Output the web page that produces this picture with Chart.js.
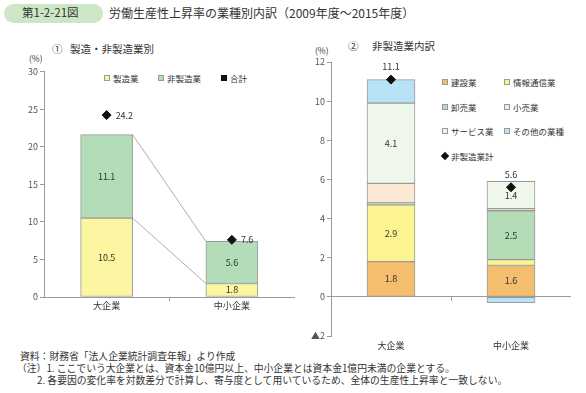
<!DOCTYPE html>
<html lang="ja">
<head>
<meta charset="utf-8">
<script src="https://cdn.jsdelivr.net/npm/chart.js@4/dist/chart.umd.min.js"></script>
<style>
body{margin:0;width:586px;height:393px;position:relative;background:#fff;overflow:hidden;
  font-family:"Noto Sans CJK JP","Noto Sans",sans-serif;color:#333}
.t{position:absolute;white-space:nowrap;line-height:1}
.pill{position:absolute;left:4px;top:4px;width:99px;height:19px;border-radius:10px;background:#cde6c6}
.sq{position:absolute;width:6px;height:6px;box-sizing:border-box;border:1px solid #999}
.dia{position:absolute;width:6px;height:6px;background:#111;transform:rotate(45deg)}
canvas{position:absolute}
</style>
</head>
<body>
<div class="pill"></div>
<div class="t" style="left:22px;top:7px;font-size:11.5px">第1-2-21図</div>
<div class="t" style="left:109px;top:7px;font-size:12px">労働生産性上昇率の業種別内訳（2009年度～2015年度）</div>

<div class="t" style="left:52px;top:44px;font-size:10.5px">①</div>
<div class="t" style="left:70px;top:44px;font-size:10.5px">製造・非製造業別</div>
<div class="t" style="left:348px;top:41px;font-size:10.5px">②</div>
<div class="t" style="left:372px;top:41px;font-size:10.5px">非製造業内訳</div>

<div class="t" style="left:29px;top:54px;font-size:8.5px">(%)</div>
<div class="t" style="left:315px;top:46px;font-size:8.5px">(%)</div>

<div id="legL"></div>
<div id="legR"></div>

<canvas id="left" width="300" height="270" style="left:0;top:50px;width:300px;height:270px"></canvas>
<canvas id="right" width="286" height="320" style="left:300px;top:40px;width:286px;height:320px"></canvas>

<div class="t" style="left:20px;top:352px;font-size:9.8px">資料：財務省「法人企業統計調査年報」より作成</div>
<div class="t" style="left:17px;top:364px;font-size:9.8px">（注）1. ここでいう大企業とは、資本金10億円以上、中小企業とは資本金1億円未満の企業とする。</div>
<div class="t" style="left:37px;top:376px;font-size:9.8px">2. 各要因の変化率を対数差分で計算し、寄与度として用いているため、全体の生産性上昇率と一致しない。</div>

<script>
(() => {
'use strict';
const $ = s => document.querySelector(s);

// ① 製造・非製造業別
const leftCats = ['大企業', '中小企業'];
const mfg = [10.5, 1.8];
const nonMfg = [11.1, 5.6];
const leftTotal = [24.2, 7.6];

// ② 非製造業内訳
const rightCats = ['大企業', '中小企業'];
const construction = [1.8, 1.6];
const infoComm = [2.9, 0.3];
const wholesale = [0.1, 2.5];
const retail = [1.0, 0.1];
const services = [4.1, 1.4];
const others = [1.2, -0.3];
const nonMfgTotal = [11.1, 5.6];

const MIN_LABEL = 1.4; // smaller segments are not labelled
const FONT = '"Noto Sans CJK JP", "Noto Sans", sans-serif';
const EDGE = '#9a9a9a';

Chart.defaults.font.family = FONT;
Chart.defaults.font.size = 9;
Chart.defaults.color = '#444';
Chart.defaults.animation = false;

// legends (HTML)
function legendItem(x, y, color, text, diamond) {
    const mark = diamond
        ? `<div class="dia" style="left:${x}px;top:${y - 3}px"></div>`
        : `<div class="sq" style="left:${x}px;top:${y - 3}px;background:${color};${color === '#111' ? 'border-color:#111' : ''}"></div>`;
    return mark + `<div class="t" style="left:${x + 9}px;top:${y - 4.5}px;font-size:8.5px">${text}</div>`;
}
$('#legL').innerHTML = [
    legendItem(104, 78, '#fcf6a2', '製造業'),
    legendItem(158, 78, '#b3dcb8', '非製造業'),
    legendItem(221, 78, '#111', '合計')
].join('');
$('#legR').innerHTML = [
    legendItem(442, 82, '#f5bd6e', '建設業'),
    legendItem(504, 82, '#fcf48e', '情報通信業'),
    legendItem(442, 107, '#b4dcb7', '卸売業'),
    legendItem(504, 107, '#fce9d3', '小売業'),
    legendItem(442, 131, '#eef7ea', 'サービス業'),
    legendItem(504, 131, '#b8e2f6', 'その他の業種'),
    legendItem(442, 156, '#111', '非製造業計', true)
].join('');

// draws segment values, totals and the small tick between categories
const labels = {
    id: 'labels',
    afterDatasetsDraw(chart, args, opts) {
        const ctx = chart.ctx;
        ctx.save();
        ctx.font = '9px ' + FONT;
        ctx.fillStyle = '#333';
        ctx.textAlign = 'center';
        ctx.textBaseline = 'middle';
        chart.data.datasets.forEach((ds, i) => {
            const meta = chart.getDatasetMeta(i);
            meta.data.forEach((el, j) => {
                const v = ds.data[j];
                if (ds.type === 'line') {
                    if (opts.totalPos === 'right') {
                        ctx.textAlign = 'left';
                        ctx.fillText(v.toFixed(1), el.x + 9, el.y);
                        ctx.textAlign = 'center';
                    } else {
                        ctx.fillText(v.toFixed(1), el.x, el.y - 13);
                    }
                } else if (Math.abs(v) >= MIN_LABEL) {
                    ctx.fillText(v.toFixed(1), el.x, (el.y + el.base) / 2);
                }
            });
        });
        // tick mark between the two categories
        const xs = chart.scales.x, y0 = chart.scales.y.getPixelForValue(0);
        const mid = (xs.getPixelForValue(0) + xs.getPixelForValue(1)) / 2;
        ctx.strokeStyle = EDGE;
        ctx.lineWidth = 1;
        ctx.beginPath();
        ctx.moveTo(Math.round(mid) + 0.5, y0);
        ctx.lineTo(Math.round(mid) + 0.5, y0 + 4);
        ctx.stroke();
        ctx.restore();
    }
};

// thin lines joining the stacked segments of the two bars
const joiners = {
    id: 'joiners',
    beforeDatasetsDraw(chart) {
        const ctx = chart.ctx;
        ctx.save();
        ctx.strokeStyle = '#999';
        ctx.lineWidth = 0.8;
        chart.data.datasets.forEach((ds, i) => {
            if (ds.type === 'line') return;
            const [a, b] = chart.getDatasetMeta(i).data;
            ctx.beginPath();
            ctx.moveTo(a.x + a.width / 2, a.y);
            ctx.lineTo(b.x - b.width / 2, b.y);
            ctx.stroke();
        });
        ctx.restore();
    }
};

function bar(label, data, color, thick) {
    return { label, data, backgroundColor: color, borderColor: EDGE, borderWidth: 1,
        borderSkipped: false, barThickness: thick, order: 2 };
}
function diamonds(label, data) {
    return { type: 'line', label, data, showLine: false, pointStyle: 'rectRot',
        pointRadius: 4.5, pointBackgroundColor: '#111', pointBorderColor: '#111',
        stack: 'total', order: 1 };
}

new Chart($('#left'), {
    type: 'bar',
    data: {
        labels: leftCats,
        datasets: [
            bar('製造業', mfg, '#fcf6a2', 52),
            bar('非製造業', nonMfg, '#b3dcb8', 52),
            diamonds('合計', leftTotal)
        ]
    },
    plugins: [joiners, labels],
    options: {
        responsive: false,
        layout: { padding: { top: 21.5, right: 0, left: 0, bottom: 0 } },
        plugins: { legend: { display: false }, tooltip: { enabled: false }, labels: { totalPos: 'right' } },
        scales: {
            x: {
                stacked: true,
                grid: { display: false, drawTicks: false },
                border: { display: true, color: EDGE },
                ticks: { padding: 3, color: '#333' },
                afterFit(s) { s.height = 23; }
            },
            y: {
                stacked: true, min: 0, max: 30,
                ticks: { stepSize: 5, padding: 2, color: '#555' },
                grid: { drawOnChartArea: false, drawTicks: true, tickLength: 4, color: EDGE },
                border: { display: true, color: EDGE },
                afterFit(s) { s.width = 44; }
            }
        }
    }
});

new Chart($('#right'), {
    type: 'bar',
    data: {
        labels: rightCats,
        datasets: [
            bar('建設業', construction, '#f5bd6e', 48),
            bar('情報通信業', infoComm, '#fcf48e', 48),
            bar('卸売業', wholesale, '#b4dcb7', 48),
            bar('小売業', retail, '#fce9d3', 48),
            bar('サービス業', services, '#eef7ea', 48),
            bar('その他の業種', others, '#b8e2f6', 48),
            diamonds('非製造業計', nonMfgTotal)
        ]
    },
    plugins: [labels],
    options: {
        responsive: false,
        layout: { padding: { top: 22, right: 15, left: 0, bottom: 0 } },
        plugins: { legend: { display: false }, tooltip: { enabled: false }, labels: { totalPos: 'top' } },
        scales: {
            x: {
                stacked: true,
                grid: { display: false, drawTicks: false },
                border: { display: false },
                ticks: { padding: 4, color: '#333' },
                afterFit(s) { s.height = 24; }
            },
            y: {
                stacked: true, min: -2, max: 12,
                ticks: { stepSize: 2, padding: 2, color: '#555',
                    callback: v => v < 0 ? '▲' + Math.abs(v) : v },
                grid: { drawOnChartArea: true, drawTicks: true, tickLength: 4,
                    color: c => c.tick && c.tick.value === 0 ? EDGE : 'transparent', tickColor: EDGE },
                border: { display: true, color: EDGE },
                afterFit(s) { s.width = 31; }
            }
        }
    }
});
})();
</script>
</body>
</html>
